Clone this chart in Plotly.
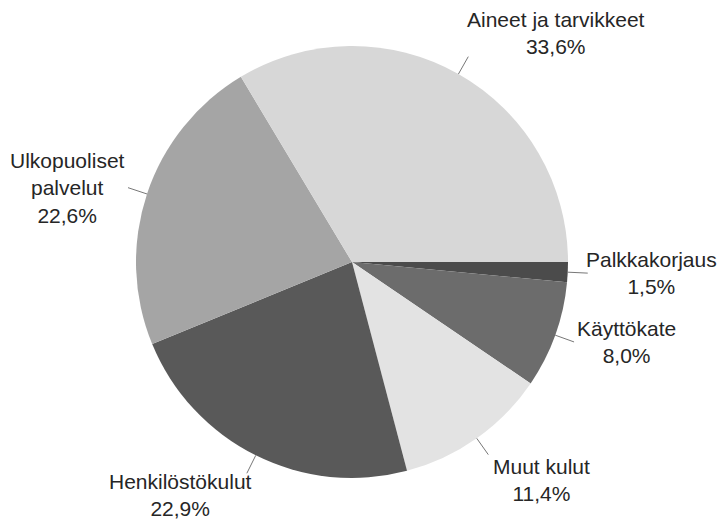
import math
import plotly.graph_objects as go

labels = ["Palkkakorjaus", "Käyttökate", "Muut kulut", "Henkilöstökulut",
          "Ulkopuoliset palvelut", "Aineet ja tarvikkeet"]
label_text = ["Palkkakorjaus", "Käyttökate", "Muut kulut", "Henkilöstökulut",
              "Ulkopuoliset<br>palvelut", "Aineet ja tarvikkeet"]
values = [1.5, 8.0, 11.4, 22.9, 22.6, 33.6]
colors = ["#4b4b4b", "#6c6c6c", "#e3e3e3", "#595959", "#a5a5a5", "#d7d7d7"]
# label block centres (screen pixels)
label_pos = [(651, 273), (626, 342), (541, 480), (180, 495), (67, 188), (556, 33)]

W, H = 728, 520
PAGE_OFF = 8  # default body margin of the html page
cx, cy, R = 352, 262, 216


def px(x):
    return (x - PAGE_OFF) / W


def py(y):
    return 1 - (y - PAGE_OFF) / H


fig = go.Figure(go.Pie(
    labels=labels, values=values, sort=False, direction="clockwise",
    rotation=90, textinfo="none", hoverinfo="label+percent",
    marker=dict(colors=colors, line=dict(width=0)),
    domain=dict(x=[px(cx - R), px(cx + R)], y=[py(cy + R), py(cy - R)]),
    showlegend=False,
))

total = sum(values)
start = 0.0
shapes = []
annotations = []
for lab, v, (lx, ly) in zip(label_text, values, label_pos):
    mid = start - v / total * 360 / 2
    start -= v / total * 360
    a = math.radians(mid)
    x0, y0 = cx + R * math.cos(a), cy - R * math.sin(a)
    x1, y1 = cx + (R + 20) * math.cos(a), cy - (R + 20) * math.sin(a)
    shapes.append(dict(type="line", xref="paper", yref="paper",
                       x0=px(x0), y0=py(y0), x1=px(x1), y1=py(y1),
                       line=dict(color="#777777", width=1)))
    pct = f"{v:.1f}".replace(".", ",") + "%"
    annotations.append(dict(text=f"{lab}<br>{pct}", x=px(lx), y=py(ly),
                            xref="paper", yref="paper", showarrow=False,
                            xanchor="center", yanchor="middle", align="center",
                            font=dict(family="Liberation Sans, Arial, sans-serif",
                                      size=21, color="#262626")))

fig.update_layout(width=W, height=H, margin=dict(l=0, r=0, t=0, b=0),
                  paper_bgcolor="white", plot_bgcolor="white",
                  shapes=shapes, annotations=annotations)
fig.write_html("out.html")
